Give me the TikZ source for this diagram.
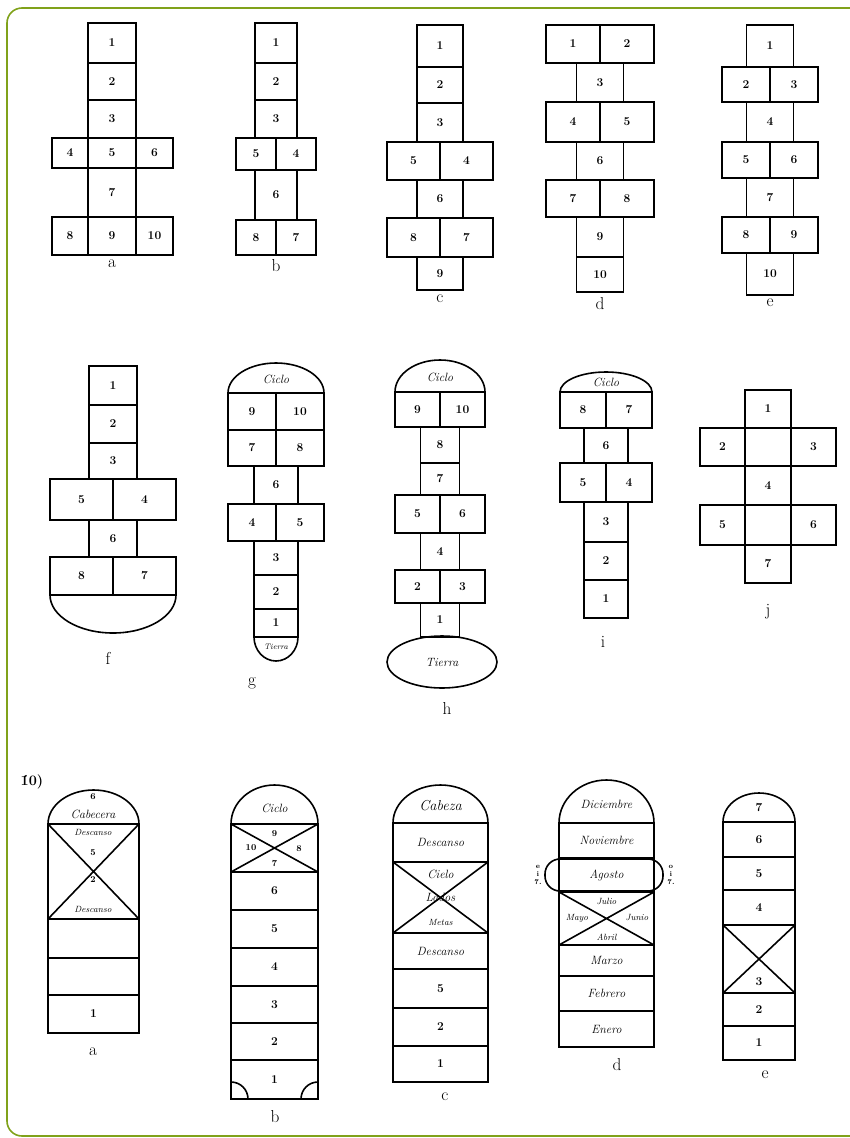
\documentclass[tikz,border=0pt]{standalone}
\usetikzlibrary{positioning, shapes.geometric}
\definecolor{framegreen}{RGB}{128,162,26}

\begin{document}
\begin{tikzpicture}[
    x=1pt, y=-1pt,
    sq/.style 2 args={draw, line width=1.6pt, inner sep=0pt, outer sep=0pt, minimum width=#1, minimum height=#2, font=\large\bfseries},
    ln/.style={line width=1.6pt},
    word/.style={font=\large\itshape},
    mini/.style={font=\small\bfseries},
    lbl/.style={font=\LARGE},
    oval/.style={draw, ellipse, line width=1.6pt, inner sep=0pt, font=\large\itshape}
  ]
    \useasboundingbox (0,0) rectangle (849,1138);
    \draw[framegreen, line width=1.6pt, rounded corners=15pt] (7,8) rectangle (866,1136);

    % top row, a
    \node[sq={48}{40}] (a1) at (112,43) {1};
    \node[sq={48}{37}, below=0pt of a1] (a2) {2};
    \node[sq={48}{38}, below=0pt of a2] (a3) {3};
    \node[sq={48}{30}, below=0pt of a3] (a5) {5};
    \node[sq={36}{30}, left=0pt of a5] (a4) {4};
    \node[sq={37}{30}, right=0pt of a5] (a6) {6};
    \node[sq={48}{49}, below=0pt of a5] (a7) {7};
    \node[sq={48}{38}, below=0pt of a7] (a9) {9};
    \node[sq={36}{38}, left=0pt of a9] (a8) {8};
    \node[sq={37}{38}, right=0pt of a9] (a10) {10};
    \node[lbl, below=1pt of a9] (capa) {a};

    % top row, b
    \node[sq={42}{40}] (b1) at (276,43) {1};
    \node[sq={42}{37}, below=0pt of b1] (b2) {2};
    \node[sq={42}{38}, below=0pt of b2] (b3) {3};
    \node[sq={40}{32}, below left=0pt and 0pt of b3.south] (b5) {5};
    \node[sq={40}{32}, below right=0pt and 0pt of b3.south] (b4) {4};
    \node[sq={42}{50}, below=0pt of b5.south east] (b6) {6};
    \node[sq={40}{35}, below left=0pt and 0pt of b6.south] (b8) {8};
    \node[sq={40}{35}, below right=0pt and 0pt of b6.south] (b7) {7};
    \node[lbl, below=1pt of b8.south east] (capb) {b};

    % top row, c
    \node[sq={46}{42}] (c1) at (440,46) {1};
    \node[sq={46}{36}, below=0pt of c1] (c2) {2};
    \node[sq={46}{39}, below=0pt of c2] (c3) {3};
    \node[sq={53}{38}, below left=0pt and 0pt of c3.south] (c5) {5};
    \node[sq={53}{38}, below right=0pt and 0pt of c3.south] (c4) {4};
    \node[sq={46}{38}, below=0pt of c5.south east] (c6) {6};
    \node[sq={53}{39}, below left=0pt and 0pt of c6.south] (c8) {8};
    \node[sq={53}{39}, below right=0pt and 0pt of c6.south] (c7) {7};
    \node[sq={46}{33}, below=0pt of c8.south east] (c9) {9};
    \node[lbl, below=1pt of c9] (capc) {c};

    % top row, d
    \node[sq={54}{38}, anchor=east] (d1) at (600,44) {1};
    \node[sq={54}{38}, right=0pt of d1] (d2) {2};
    \node[sq={47}{39}, below=0pt of d1.south east] (d3) {3};
    \node[sq={54}{40}, below left=0pt and 0pt of d3.south] (d4) {4};
    \node[sq={54}{40}, below right=0pt and 0pt of d3.south] (d5) {5};
    \node[sq={47}{38}, below=0pt of d4.south east] (d6) {6};
    \node[sq={54}{37}, below left=0pt and 0pt of d6.south] (d7) {7};
    \node[sq={54}{37}, below right=0pt and 0pt of d6.south] (d8) {8};
    \node[sq={47}{40}, below=0pt of d7.south east] (d9) {9};
    \node[sq={47}{35}, below=0pt of d9] (d10) {10};
    \node[lbl, below=2pt of d10] (capd) {d};

    % top row, e
    \node[sq={47}{42}] (e1) at (770,46) {1};
    \node[sq={48}{35}, below left=0pt and 0pt of e1.south] (e2) {2};
    \node[sq={48}{35}, below right=0pt and 0pt of e1.south] (e3) {3};
    \node[sq={47}{40}, below=0pt of e2.south east] (e4) {4};
    \node[sq={48}{36}, below left=0pt and 0pt of e4.south] (e5) {5};
    \node[sq={48}{36}, below right=0pt and 0pt of e4.south] (e6) {6};
    \node[sq={47}{39}, below=0pt of e5.south east] (e7) {7};
    \node[sq={48}{36}, below left=0pt and 0pt of e7.south] (e8) {8};
    \node[sq={48}{36}, below right=0pt and 0pt of e7.south] (e9) {9};
    \node[sq={47}{42}, below=0pt of e8.south east] (e10) {10};
    \node[lbl, below=0pt of e10] (cape) {e};

    % middle row, f
    \node[sq={48}{39}] (f1) at (113,385.5) {1};
    \node[sq={48}{38}, below=0pt of f1] (f2) {2};
    \node[sq={48}{36}, below=0pt of f2] (f3) {3};
    \node[sq={63}{41}, below left=0pt and 0pt of f3.south] (f5) {5};
    \node[sq={63}{41}, below right=0pt and 0pt of f3.south] (f4) {4};
    \node[sq={48}{37}, below=0pt of f5.south east] (f6) {6};
    \node[sq={63}{38}, below left=0pt and 0pt of f6.south] (f8) {8};
    \node[sq={63}{38}, below right=0pt and 0pt of f6.south] (f7) {7};
    \draw[ln] (f8.south west) arc[start angle=180, end angle=360, x radius=63pt, y radius=38pt];
    \node[lbl] (capf) at (108,658) {f};

    % middle row, g
    \node[sq={48}{37}, anchor=north east] (g9) at (276,393) {9};
    \node[sq={48}{37}, right=0pt of g9] (g10) {10};
    \draw[ln] (g9.north west) arc[start angle=180, end angle=0, x radius=48pt, y radius=30pt];
    \node[word] (gciclo) at (276,379) {Ciclo};
    \node[sq={48}{36}, below=0pt of g9] (g7) {7};
    \node[sq={48}{36}, below=0pt of g10] (g8) {8};
    \node[sq={44}{38}, below=0pt of g7.south east] (g6) {6};
    \node[sq={48}{37}, below left=0pt and 0pt of g6.south] (g4) {4};
    \node[sq={48}{37}, below right=0pt and 0pt of g6.south] (g5) {5};
    \node[sq={44}{34}, below=0pt of g4.south east] (g3) {3};
    \node[sq={44}{34}, below=0pt of g3] (g2) {2};
    \node[sq={44}{28}, below=0pt of g2] (g1) {1};
    \draw[ln] (g1.south west) arc[start angle=180, end angle=360, x radius=22pt, y radius=24pt];
    \node[font=\footnotesize\itshape] (gtierra) at (276,647) {Tierra};
    \node[lbl] (capg) at (252,683) {g};

    % middle row, h
    \node[sq={45}{35}, anchor=north east] (h9) at (440,392) {9};
    \node[sq={45}{35}, right=0pt of h9] (h10) {10};
    \draw[ln] (h9.north west) arc[start angle=180, end angle=0, x radius=45pt, y radius=32pt];
    \node[word] (hciclo) at (440,377) {Ciclo};
    \node[sq={39}{36}, below=0pt of h9.south east] (h8) {8};
    \node[sq={39}{32}, below=0pt of h8] (h7) {7};
    \node[sq={45}{38}, below left=0pt and 0pt of h7.south] (h5) {5};
    \node[sq={45}{38}, below right=0pt and 0pt of h7.south] (h6) {6};
    \node[sq={39}{37}, below=0pt of h5.south east] (h4) {4};
    \node[sq={45}{33}, below left=0pt and 0pt of h4.south] (h2) {2};
    \node[sq={45}{33}, below right=0pt and 0pt of h4.south] (h3) {3};
    \node[sq={39}{34}, below=0pt of h2.south east] (h1) {1};
    \node[oval, minimum width=110pt, minimum height=52pt] (htierra) at (442,662) {Tierra};
    \node[lbl] (caph) at (447,708) {h};

    % middle row, i
    \node[sq={46}{36}, anchor=north east] (i8) at (606,392) {8};
    \node[sq={46}{36}, right=0pt of i8] (i7) {7};
    \draw[ln] (i8.north west) arc[start angle=180, end angle=0, x radius=46pt, y radius=20pt];
    \node[word] (iciclo) at (606,382) {Ciclo};
    \node[sq={44}{35}, below=0pt of i8.south east] (i6) {6};
    \node[sq={46}{39}, below left=0pt and 0pt of i6.south] (i5) {5};
    \node[sq={46}{39}, below right=0pt and 0pt of i6.south] (i4) {4};
    \node[sq={44}{40}, below=0pt of i5.south east] (i3) {3};
    \node[sq={44}{38}, below=0pt of i3] (i2) {2};
    \node[sq={44}{38}, below=0pt of i2] (i1) {1};
    \node[lbl] (capi) at (603,642) {i};

    % middle row, j
    \node[sq={46}{38}] (j1) at (768,409) {1};
    \node[sq={46}{38}, below=0pt of j1] (jc2) {};
    \node[sq={45}{38}, left=0pt of jc2] (j2) {2};
    \node[sq={45}{38}, right=0pt of jc2] (j3) {3};
    \node[sq={46}{39}, below=0pt of jc2] (j4) {4};
    \node[sq={46}{40}, below=0pt of j4] (jc5) {};
    \node[sq={45}{40}, left=0pt of jc5] (j5) {5};
    \node[sq={45}{40}, right=0pt of jc5] (j6) {6};
    \node[sq={46}{38}, below=0pt of jc5] (j7) {7};
    \node[lbl] (capj) at (768,612) {j};

    % bottom row
    \node[font=\Large\bfseries] (ten) at (32,782) {\'{1}0)};

    % bottom row, a
    \node[sq={91}{95}] (ax) at (93.5,871.5) {};
    \draw[ln] (ax.north west) -- (ax.south east) (ax.north east) -- (ax.south west);
    \draw[ln] (ax.north west) arc[start angle=180, end angle=0, x radius=45.5pt, y radius=34pt];
    \node[sq={91}{39}, below=0pt of ax] (ar3) {};
    \node[sq={91}{37}, below=0pt of ar3] (ar2) {};
    \node[sq={91}{38}, below=0pt of ar2] (ar1) {1};
    \node[mini] (atop) at (93,797) {6};
    \node[word] (acab) at (93,814) {Cabecera};
    \node[font=\small\itshape] (ades1) at (93,832) {Descanso};
    \node[mini] (a5x) at (93,853) {5};
    \node[mini] (a2x) at (93,880) {2};
    \node[font=\small\itshape] (ades2) at (93,909) {Descanso};
    \node[lbl] (capa2) at (93,1052) {a};

    % bottom row, b
    \node[sq={87}{48}] (bx) at (274.5,848) {};
    \draw[ln] (bx.north west) -- (bx.south east) (bx.north east) -- (bx.south west);
    \draw[ln] (bx.north west) arc[start angle=180, end angle=0, x radius=43.5pt, y radius=39pt];
    \node[word] (bciclo) at (274.5,808) {Ciclo};
    \node[mini] (b9x) at (274.5,834) {9};
    \node[mini] (b10x) at (251,848) {10};
    \node[mini] (b8x) at (299,849) {8};
    \node[mini] (b7x) at (274.5,863) {7};
    \node[sq={87}{38}, below=0pt of bx] (br6) {6};
    \node[sq={87}{38}, below=0pt of br6] (br5) {5};
    \node[sq={87}{38}, below=0pt of br5] (br4) {4};
    \node[sq={87}{37}, below=0pt of br4] (br3) {3};
    \node[sq={87}{37}, below=0pt of br3] (br2) {2};
    \node[sq={87}{39}, below=0pt of br2] (br1) {1};
    \draw[ln] (br1.south west) ++(17pt,0pt) arc[start angle=0, end angle=90, radius=17pt];
    \draw[ln] (br1.south east) ++(-17pt,0pt) arc[start angle=180, end angle=90, radius=17pt];
    \node[lbl] (capb2) at (275,1117) {b};

    % bottom row, c
    \node[sq={95}{39}, word] (cdes1) at (440.5,842.5) {Descanso};
    \draw[ln] (cdes1.north west) arc[start angle=180, end angle=0, x radius=47.5pt, y radius=38pt];
    \node[font=\Large\itshape] (ccab) at (440.5,806) {Cabeza};
    \node[sq={95}{71}, below=0pt of cdes1] (cx) {};
    \draw[ln] (cx.north west) -- (cx.south east) (cx.north east) -- (cx.south west);
    \node[word] (ccielo) at (440.5,874) {Cielo};
    \node[word] (clados) at (440.5,897) {Lados};
    \node[font=\small\itshape] (cmetas) at (440.5,922) {Metas};
    \node[sq={95}{36}, word, below=0pt of cx] (cdes2) {Descanso};
    \node[sq={95}{39}, below=0pt of cdes2] (cr5) {5};
    \node[sq={95}{38}, below=0pt of cr5] (cr2) {2};
    \node[sq={95}{36}, below=0pt of cr2] (cr1) {1};
    \node[lbl] (capc2) at (445,1097) {c};

    % bottom row, d
    \node[sq={95}{35}, word] (dnov) at (606.5,840.5) {Noviembre};
    \draw[ln] (dnov.north west) arc[start angle=180, end angle=0, x radius=47.5pt, y radius=43pt];
    \node[word] (ddic) at (606.5,804) {Diciembre};
    \node[sq={95}{34}, word, below=0pt of dnov] (dago) {Agosto};
    \draw[ln, rounded corners=15pt] (545,859) rectangle (663,891);
    \node[font=\scriptsize\bfseries, align=center, inner sep=0pt] (dleft) at (538,875) {e\\i\\7.};
    \node[font=\scriptsize\bfseries, align=center, inner sep=0pt] (dright) at (671,875) {o\\i\\7.};
    \node[sq={95}{53}, below=0pt of dago] (dx) {};
    \draw[ln] (dx.north west) -- (dx.south east) (dx.north east) -- (dx.south west);
    \node[font=\small\itshape] (djul) at (606.5,901) {Julio};
    \node[font=\small\itshape] (dmay) at (577,918) {Mayo};
    \node[font=\small\itshape] (djun) at (637,918) {Junio};
    \node[font=\small\itshape] (dabr) at (606.5,937) {Abril};
    \node[sq={95}{31}, word, below=0pt of dx] (dmar) {Marzo};
    \node[sq={95}{35}, word, below=0pt of dmar] (dfeb) {Febrero};
    \node[sq={95}{36}, word, below=0pt of dfeb] (dene) {Enero};
    \node[lbl] (capd2) at (617,1065) {d};

    % bottom row, e
    \node[sq={72}{35}] (er6) at (759,839.5) {6};
    \draw[ln] (er6.north west) arc[start angle=180, end angle=0, x radius=36pt, y radius=29pt];
    \node[font=\large\bfseries] (e7x) at (759,808) {7};
    \node[sq={72}{33}, below=0pt of er6] (er5) {5};
    \node[sq={72}{35}, below=0pt of er5] (er4) {4};
    \node[sq={72}{68}, below=0pt of er4] (ex) {};
    \draw[ln] (ex.north west) -- (ex.south east) (ex.north east) -- (ex.south west);
    \node[font=\large\bfseries] (e3x) at (759,982) {3};
    \node[sq={72}{33}, below=0pt of ex] (er2) {2};
    \node[sq={72}{34}, below=0pt of er2] (er1) {1};
    \node[lbl] (cape2) at (765,1075) {e};
\end{tikzpicture}
\end{document}
